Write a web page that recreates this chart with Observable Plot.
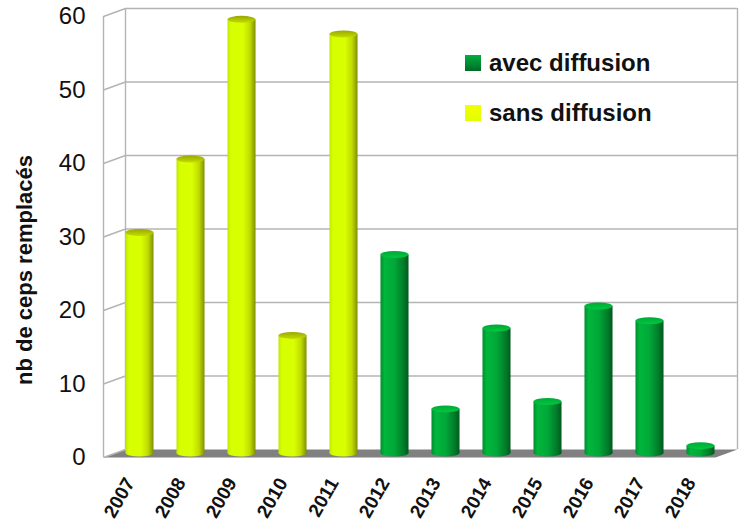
<!DOCTYPE html>
<html>
<head>
<meta charset="utf-8">
<script src="https://cdn.jsdelivr.net/npm/d3@7"></script>
<script src="https://cdn.jsdelivr.net/npm/@observablehq/plot@0.6"></script>
<style>
  html, body { margin: 0; padding: 0; background: #fff; }
  #wrap { position: relative; width: 743px; height: 526px; font-family: "Liberation Sans", Arial, sans-serif; }
  #legend { position: absolute; left: 465px; top: 49px; }
  .row { display: flex; align-items: center; height: 28px; font-weight: bold; font-size: 24px; color: #111; }
  .row + .row { margin-top: 22px; }
  .sw { width: 16px; height: 16px; margin-right: 8px; }
</style>
</head>
<body>
<div id="wrap"><div id="legend"></div></div>
<script>
const years = [2007, 2008, 2009, 2010, 2011, 2012, 2013, 2014, 2015, 2016, 2017, 2018];
const values = [30, 40, 59, 16, 57, 27, 6, 17, 7, 20, 18, 1];
const groups = ["sans diffusion","sans diffusion","sans diffusion","sans diffusion","sans diffusion",
  "avec diffusion","avec diffusion","avec diffusion","avec diffusion","avec diffusion","avec diffusion","avec diffusion"];
const yTicks = [0, 10, 20, 30, 40, 50, 60];
const seriesNames = ["avec diffusion", "sans diffusion"];
const yTitle = "nb de ceps remplacés";

const data = years.map((year, i) => ({year, value: values[i], group: groups[i]}));

const W = 743, H = 526, ML = 103, MR = 28, MT = 16, MB = 69;
const x0 = years[0] - 0.5, x1 = years[years.length - 1] + 0.5;
// 3D depth offset in pixels, and in data units
const DX = 22, DY = -8;
const kx = (x1 - x0) / (W - ML - MR), ky = 60 / (H - MT - MB);
const dxU = DX * kx, dyU = -DY * ky;
const half = 0.275;

const floor = [[x0, 0], [x1, 0], [x1 + dxU, dyU], [x0 + dxU, dyU], [x0, 0]];
const grid = "#b4b4b4";

const sans = data.filter(d => d.group === seriesNames[1]);
const avec = data.filter(d => d.group === seriesNames[0]);

function barMarks(arr, body, cap) {
  const common = {x1: d => d.year - half, x2: d => d.year + half, dx: DX / 2, dy: DY / 2};
  return [
    Plot.rect(arr, {...common, y1: 0, y2: 0, insetTop: -3.5, insetBottom: -3.5, rx: 14, fill: body}),
    Plot.rect(arr, {...common, y1: 0, y2: "value", fill: body}),
    Plot.rect(arr, {...common, y1: "value", y2: "value", insetTop: -3.5, insetBottom: -3.5, rx: 14, fill: cap})
  ];
}

const plot = Plot.plot({
  width: W, height: H,
  marginLeft: ML, marginRight: MR, marginTop: MT, marginBottom: MB,
  style: {fontFamily: "'Liberation Sans', Arial, sans-serif", background: "transparent"},
  x: {type: "linear", domain: [x0, x1], axis: null},
  y: {domain: [0, 60], axis: null},
  marks: [
    Plot.line(floor, {x: d => d[0], y: d => d[1], fill: "#808080", stroke: "none"}),
    Plot.ruleY(yTicks.slice(1), {x1: x0, x2: x1, dx: DX, dy: DY, stroke: grid, strokeWidth: 1.4}),
    Plot.ruleX([x0], {y1: 0, y2: 60, stroke: grid, strokeWidth: 1.4}),
    Plot.ruleX([x0, x1], {y1: 0, y2: 60, dx: DX, dy: DY, stroke: grid, strokeWidth: 1.4}),
    Plot.link(yTicks, {x1: x0, y1: d => d, x2: x0 + dxU, y2: d => d + dyU, stroke: grid, strokeWidth: 1.4}),
    ...barMarks(sans, "url(#gY)", "url(#cY)"),
    ...barMarks(avec, "url(#gG)", "url(#cG)"),
    Plot.text(yTicks, {x: x0, y: d => d, text: d => String(d), textAnchor: "end", dx: -18, fontSize: 24, fill: "#111"}),
    Plot.text(years, {x: d => d, y: 0, text: d => String(d), rotate: -60, textAnchor: "end", dx: 1, dy: 22, fontSize: 19, fontWeight: "bold", fill: "#111"}),
    Plot.text([yTitle], {frameAnchor: "left", text: d => d, rotate: -90, textAnchor: "middle", dx: -79, dy: 33, fontSize: 22, fontWeight: "bold", fill: "#111"})
  ]
});

d3.select(plot).insert("defs", ":first-child").html(`
  <linearGradient id="gY" x1="0" x2="1" y1="0" y2="0">
    <stop offset="0" stop-color="#c4e600"/>
    <stop offset="0.12" stop-color="#d6ff00"/>
    <stop offset="0.55" stop-color="#d9ff00"/>
    <stop offset="0.8" stop-color="#c0dc00"/>
    <stop offset="1" stop-color="#808f00"/>
  </linearGradient>
  <linearGradient id="cY" x1="0" x2="0" y1="0" y2="1">
    <stop offset="0" stop-color="#98a800"/>
    <stop offset="1" stop-color="#c4dc00"/>
  </linearGradient>
  <linearGradient id="gG" x1="0" x2="1" y1="0" y2="0">
    <stop offset="0" stop-color="#008e30"/>
    <stop offset="0.15" stop-color="#00b63c"/>
    <stop offset="0.5" stop-color="#00a838"/>
    <stop offset="0.82" stop-color="#007c2a"/>
    <stop offset="1" stop-color="#005a1e"/>
  </linearGradient>
  <linearGradient id="cG" x1="0" x2="0" y1="0" y2="1">
    <stop offset="0" stop-color="#00a838"/>
    <stop offset="1" stop-color="#00c840"/>
  </linearGradient>
`);

document.getElementById("wrap").prepend(plot);

const swatch = {"avec diffusion": "linear-gradient(#00b040, #006a26)", "sans diffusion": "linear-gradient(#f4ff00, #e0ff00)"};
const legend = document.getElementById("legend");
for (const name of seriesNames) {
  const row = document.createElement("div");
  row.className = "row";
  const sw = document.createElement("div");
  sw.className = "sw";
  sw.style.background = swatch[name];
  const t = document.createElement("span");
  t.textContent = name;
  row.append(sw, t);
  legend.append(row);
}
</script>
</body>
</html>
